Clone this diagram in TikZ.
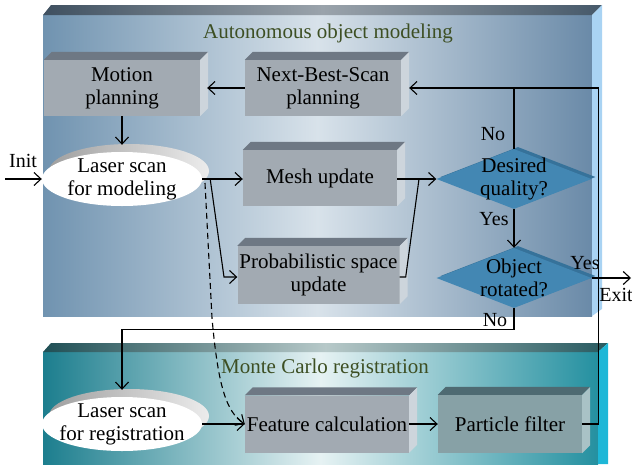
\documentclass[tikz,border=0pt]{standalone}
\usepackage{fontspec}
\setmainfont{Liberation Serif}
\usetikzlibrary{arrows.meta,calc,shapes.geometric}
\definecolor{tpL}{HTML}{7093B0}
\definecolor{tpM}{HTML}{D8E2EA}
\definecolor{tpR}{HTML}{6A8AA8}
\definecolor{tbL}{HTML}{3F5060}
\definecolor{tbM}{HTML}{9AA3AB}
\definecolor{tbR}{HTML}{46596A}
\definecolor{tside}{HTML}{A9D3F3}
\definecolor{bpL}{HTML}{1C7E8E}
\definecolor{bpM}{HTML}{E6F2F3}
\definecolor{bpR}{HTML}{2490A0}
\definecolor{bbL}{HTML}{1F4F55}
\definecolor{bbM}{HTML}{B7C9C9}
\definecolor{bbR}{HTML}{285A60}
\definecolor{bside}{HTML}{1DB7D7}
\definecolor{boxfront}{HTML}{A2AAB2}
\definecolor{boxtop}{HTML}{6E7884}
\definecolor{boxside}{HTML}{CDD5DC}
\definecolor{pffront}{HTML}{87A1A6}
\definecolor{pftop}{HTML}{4E6A72}
\definecolor{pfside}{HTML}{A9C2C6}
\definecolor{dqc}{HTML}{4387B3}
\definecolor{dqd}{HTML}{36729A}
\definecolor{title}{HTML}{3D4F23}
\newcommand{\dfont}{\fontsize{21}{23}\selectfont}
\newcommand{\sfontx}{\fontsize{20}{22}\selectfont}
\newcommand{\bevelbox}[3]{%
  \fill[#2] (#1.north west) -- ++(8,-8) -- ($(#1.north east)+(8,-8)$) -- (#1.north east) -- cycle;
  \fill[#3] (#1.north east) -- ++(8,-8) -- ($(#1.south east)+(8,-8)$) -- (#1.south east) -- cycle;
}
\begin{document}
\begin{tikzpicture}[x=1pt,y=-1pt,
  boxf/.style={fill=boxfront, inner sep=0pt, align=center, font=\dfont},
  ell/.style={ellipse, inner sep=0pt, minimum width=160pt, minimum height=54pt},
  shd/.style={ell, left color=gray!75, right color=gray!15},
  dia/.style={diamond, inner sep=0pt, minimum width=155pt, minimum height=60pt},
  txt/.style={align=center, font=\dfont, inner sep=0pt},
  lbl/.style={font=\sfontx, inner sep=0pt},
  conn/.style={line width=1.1pt},
  arr/.style={line width=1.1pt, -{Straight Barb[length=7pt,width=13pt]}}]
\useasboundingbox (0,0) rectangle (632,464);

% top panel
\shade[left color=tpL, right color=tpR, middle color=tpM] (43,15) rectangle (592,316);
\shade[left color=tbL, right color=tbR, middle color=tbM] (43,15) -- (51,5) -- (602,5) -- (592,15) -- cycle;
\fill[tside] (592,15) -- (602,5) -- (602,309) -- (592,316) -- cycle;
% bottom panel
\shade[left color=bpL, right color=bpR, middle color=bpM] (43,352) rectangle (598,464);
\shade[left color=bbL, right color=bbR, middle color=bbM] (43,352) -- (51,343) -- (608,343) -- (598,352) -- cycle;
\fill[bside] (598,352) -- (608,343) -- (608,464) -- (598,464) -- cycle;

\node[font=\dfont, text=title] (t1) at (328,33) {Autonomous object modeling};
\node[font=\dfont, text=title] (t2) at (325,368) {Monte Carlo registration};

% boxes
\node[boxf, minimum width=156pt, minimum height=56pt] (mp) at (122,88) {Motion\\planning};
\bevelbox{mp}{boxtop}{boxside}
\node[boxf, minimum width=156pt, minimum height=56pt] (nbs) at (323,88) {Next-Best-Scan\\planning};
\bevelbox{nbs}{boxtop}{boxside}
\node[boxf, minimum width=154pt, minimum height=56pt] (mesh) at (320,178) {Mesh update};
\bevelbox{mesh}{boxtop}{boxside}
\node[boxf, minimum width=162pt, minimum height=58pt] (ps) at (318.5,275) {Probabilistic space\\update};
\bevelbox{ps}{boxtop}{boxside}
\node[boxf, minimum width=164pt, minimum height=57pt] (fc) at (327,424) {Feature calculation};
\bevelbox{fc}{boxtop}{boxside}
\node[boxf, fill=pffront, minimum width=144pt, minimum height=58pt] (pf) at (510,424) {Particle filter};
\bevelbox{pf}{pftop}{pfside}

% ellipses
\node[shd] (lsms) at (129,171) {};
\node[ell, fill=white] (lsm) at (122,179) {};
\node[txt] (lsmt) at (lsm) {Laser scan\\for modeling};
\node[shd] (lsrs) at (129,416) {};
\node[ell, fill=white] (lsr) at (122,424) {};
\node[txt] (lsrt) at (lsr) {Laser scan\\for registration};

% diamonds
\node[dia, fill=dqd] (dqs) at (518,177) {};
\node[dia, fill=dqc] (dq) at (514,179) {};
\node[txt] (dqt) at (dq) {Desired\\quality?};
\node[dia, fill=dqd] (ors) at (518,276) {};
\node[dia, fill=dqc] (or) at (514,278) {};
\node[txt] (ort) at (or) {Object\\rotated?};

% connectors
\coordinate (init) at (5,179);
\coordinate (exit) at (631,278);
\draw[arr] (init) -- (lsm.west);
\node[lbl] (initl) at (23,161) {Init};
\draw[arr] (nbs.west) -- ($(mp.east)+(7,0)$);
\draw[arr] (mp.south) -- ($(lsm.north)+(0,-7)$);
\draw[arr] (lsm.east) -- (mesh.west |- lsm.east);
\coordinate (b1) at ($(lsm.east)+(8,0)$);
\coordinate (b2) at (224,277);
\draw[arr] (b1) -- (b2) -- (ps.west |- b2);
\coordinate (j2) at (419,179);
\draw[arr] (mesh.east |- dq.west) -- (dq.west);
\draw[conn] (ps.east |- b2) -- ++(6,0) -- (j2);
\draw[conn] (dq.north) -- (dq.north |- nbs.east);
\draw[arr] (pf.east) -- ++(16,0) |- ($(nbs.east)+(8,0)$);
\draw[arr] (dq.south) -- (or.north);
\draw[arr] (or.east) -- (exit);
\draw[arr] (or.south) -- ++(0,21) -| ($(lsr.north)+(0,-7)$);
\draw[arr] (lsr.east) -- (fc.west);
\draw[arr] (fc.east) -- (pf.west);
\coordinate (d1) at (205,183);
\draw[arr, dash pattern=on 6pt off 4pt] (d1) -- (212,318) .. controls (218,385) and (226,412) .. (fc.west);

\node[lbl] (no1) at (493,134) {No};
\node[lbl] (yes1) at (494,219) {Yes};
\node[lbl] (yes2) at (585,263) {Yes};
\node[lbl] (ex) at (616,295) {Exit};
\node[lbl] (no2) at (495,320) {No};
\end{tikzpicture}
\end{document}
